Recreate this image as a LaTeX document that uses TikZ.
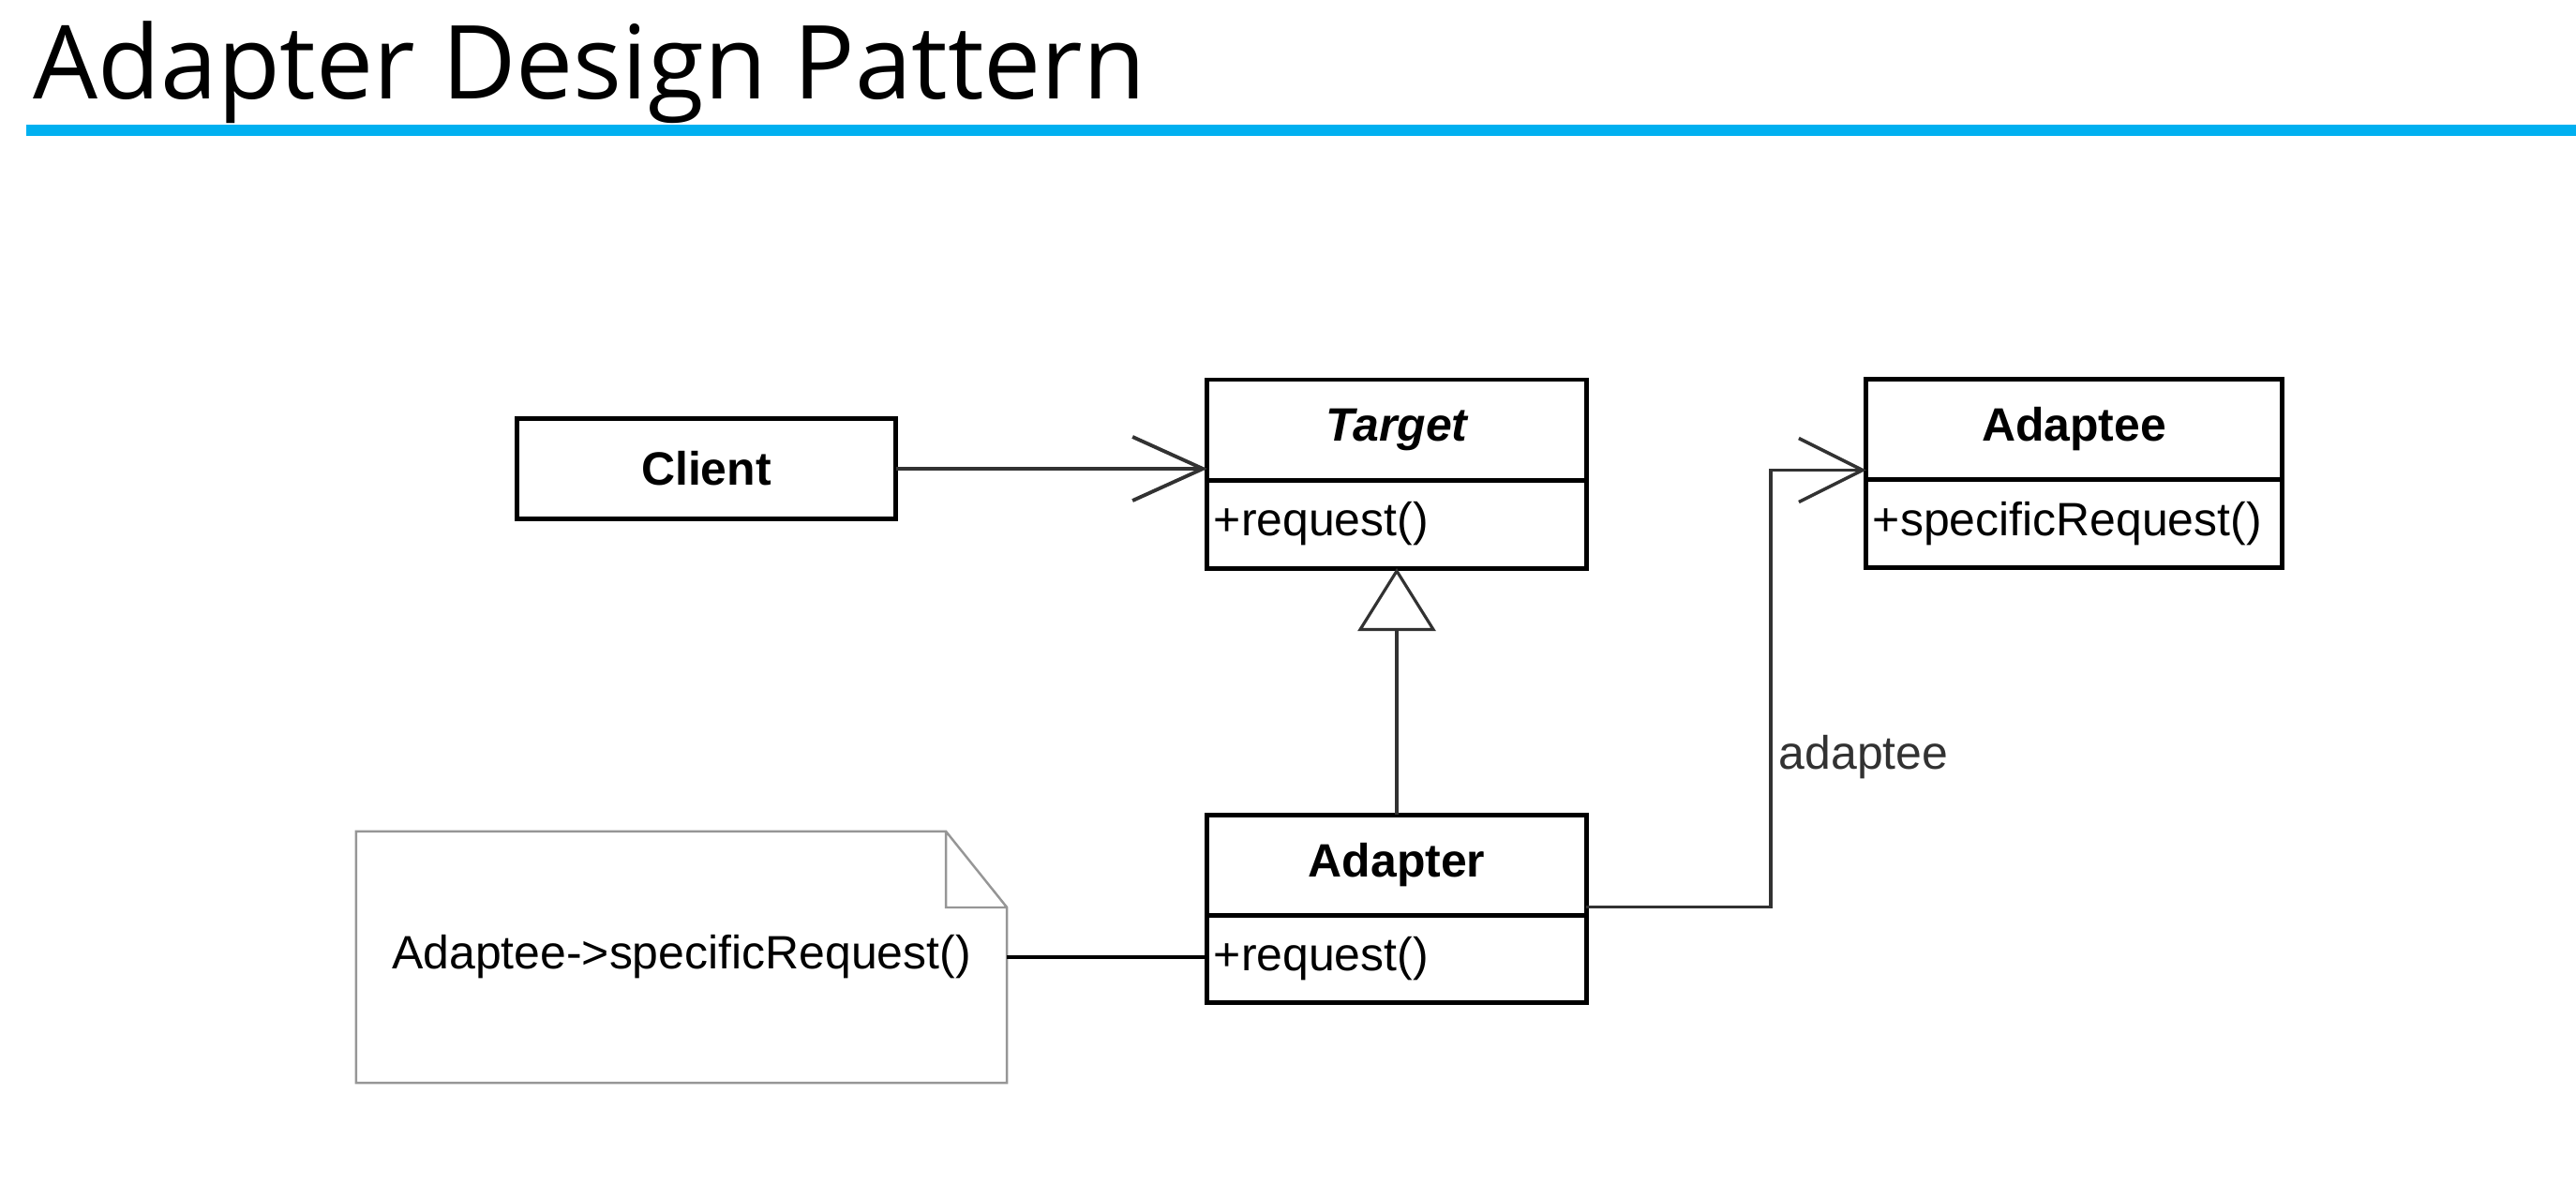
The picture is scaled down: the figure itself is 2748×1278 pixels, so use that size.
\documentclass[tikz,border=0pt]{standalone}
\usepackage{fontspec}
\setmainfont{Liberation Sans}
\newfontfamily\titlefont{Open Sans}
\usepackage{tikz}
\usetikzlibrary{arrows.meta,calc}
\definecolor{titleblue}{RGB}{0,176,240}
\definecolor{notegray}{RGB}{150,150,150}
\definecolor{linegray}{RGB}{50,50,50}

\begin{document}
\begin{tikzpicture}[x=0.01cm,y=-0.01cm,font=\fontsize{14.2}{17}\selectfont,
  cls/.style={draw,line width=1.4pt,minimum width=4.04cm,inner sep=0pt,outer sep=0pt},
  head/.style={cls,minimum height=1.07cm,font=\fontsize{14.2}{17}\selectfont\bfseries},
  body/.style={cls,anchor=north,minimum height=0.94cm,text width=3.9cm,inner xsep=0.07cm,align=left},
  notebox/.style={minimum width=6.94cm,minimum height=2.68cm,inner sep=0pt,outer sep=0pt}]
\useasboundingbox (0,0) rectangle (2748,1278);
% title and rule
\node[anchor=base west,inner sep=0pt,font=\titlefont\fontsize{31}{37}\selectfont] (t) at (35,105) {Adapter Design Pattern};
\draw[titleblue,line width=0.12cm] (28,139) -- (2748,139);
% classes
\node[head] (a) at (753.5,500) {Client};
\node[head,font=\fontsize{14.2}{17}\selectfont\bfseries\itshape] (b) at (1490,458.5) {Target};
\node[body] (c) at (b.south) {+request()};
\node[head,minimum width=4.43cm] (d) at (2212.5,458) {Adaptee};
\node[body,minimum width=4.43cm,text width=4.29cm] (e) at (d.south) {+specificRequest()};
\node[head] (f) at (1490,923) {Adapter};
\node[body,minimum height=0.93cm] (g) at (f.south) {+request()};
% note
\node[notebox] (h) at (727,1021) {Adaptee->specificRequest()};
\draw[notegray,line width=0.7pt] (h.north west) -- ([xshift=-0.65cm]h.north east) -- ([yshift=-0.81cm]h.north east) -- (h.south east) -- (h.south west) -- cycle
([xshift=-0.65cm]h.north east) |- ([yshift=-0.81cm]h.north east);
\coordinate (k) at (1889,0);
\coordinate (p) at ([yshift=0.09cm]g.north east);
\coordinate (q) at ([yshift=0.1cm]e.north west);
\path[linegray,line width=1.1pt,-{Straight Barb[length=0.75cm,width=0.68cm]}]
(a) edge (a.east -| b.west)
;
\path[linegray,line width=0.9pt,-{Triangle[open,length=0.67cm,width=0.83cm]}]
(f) edge (c)
;
\path[line width=1.4pt] (h) edge (h.east -| g.west);
\draw[linegray,line width=1pt,-{Straight Barb[length=0.68cm,width=0.68cm]}] (p) -- (p -| k) -- node[pos=0.343,right,inner sep=0.07cm,text=linegray] {adaptee} (q -| k) -- (q);
\end{tikzpicture}
\end{document}
